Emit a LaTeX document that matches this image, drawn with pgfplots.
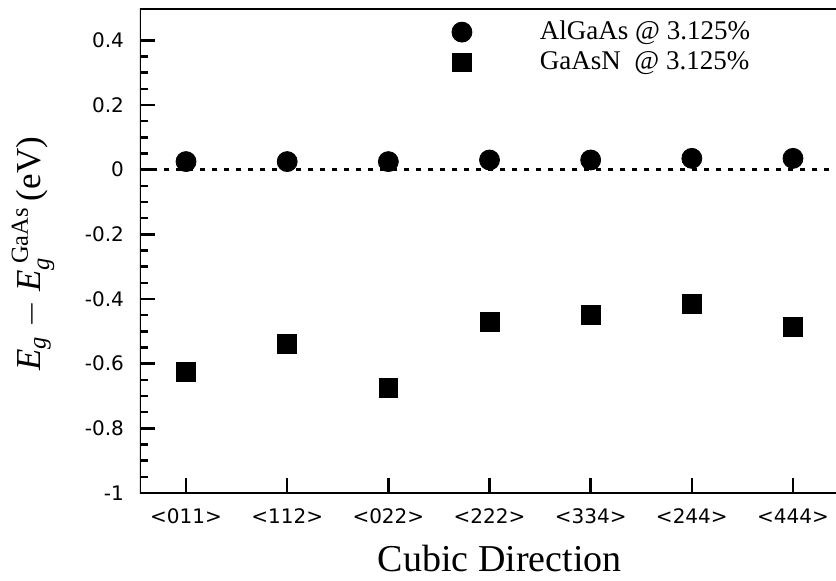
\documentclass[border=0pt]{standalone}
\usepackage{fontspec}
\setmainfont{Liberation Serif}
\newfontfamily\tickfont{DejaVu Sans}
\usepackage{amsmath}
\usepackage{pgfplots}
\pgfplotsset{compat=1.18}
\begin{document}
\begin{tikzpicture}
\begin{axis}[
  at={(0pt,0pt)}, anchor=south west,
  scale only axis, width=348pt, height=242.5pt,
  xmin=-0.455, xmax=6.425, ymin=-1, ymax=0.5,
  xtick={0,1,2,3,4,5,6},
  xticklabels={<011>,<112>,<022>,<222>,<334>,<244>,<444>},
  ytick={-1,-0.8,-0.6,-0.4,-0.2,0,0.2,0.4},
  minor y tick num=3,
  tick align=inside, xtick pos=bottom, ytick pos=left,
  major tick length=7.5pt, minor tick length=4pt,
  every tick/.style={line width=1.2pt, black},
  axis line style={draw=none},
  tick label style={font=\tickfont\fontsize{10}{12}\selectfont},
  /pgf/number format/assume math mode=true,
  xticklabel style={yshift=-4.5pt},
  yticklabel style={xshift=-4.5pt},
  every axis x label/.style={at={(axis description cs:0.517,-0.135)}, anchor=center},
  every axis y label/.style={at={(axis description cs:-0.1537,0.493)}, anchor=center, rotate=90},
  xlabel={\fontsize{19}{21}\selectfont Cubic Direction},
  ylabel={\fontsize{17.5}{20}\selectfont \textit{E}$_{\textit{g}}$ $-$ \textit{E}$_{\textit{g}}^{\;\text{GaAs}}$\,(eV)},
  legend style={draw=none, fill=none, at={(axis description cs:0.439,0.99)}, anchor=north west,
    font=\fontsize{13.5}{16}\selectfont, row sep=0.5pt},
  legend cell align=left,
]
\addplot[only marks, mark=*, mark size=5pt, black] coordinates {
  (0,0.025) (1,0.025) (2,0.025) (3,0.03) (4,0.03) (5,0.035) (6,0.035)};
\addlegendentry{\hspace{32pt}AlGaAs @ 3.125\%}
\addplot[only marks, mark=square*, mark size=4.7pt, black] coordinates {
  (0,-0.625) (1,-0.538) (2,-0.674) (3,-0.47) (4,-0.45) (5,-0.414) (6,-0.487)};
\addlegendentry{\hspace{32pt}GaAsN\ \ @ 3.125\%}
\addplot[black, line width=1.5pt, dash pattern=on 2.5pt off 3.5pt, forget plot] coordinates {(-0.455,0) (6.425,0)};
\draw[line width=1.5pt, black] (rel axis cs:0,1) -- (rel axis cs:0,0) -- (rel axis cs:1,0);
\draw[line width=1.5pt, black] (rel axis cs:0,1) -- (rel axis cs:1,1);
\end{axis}
\pgfresetboundingbox
\path[use as bounding box] (-70pt,-43.5pt) rectangle (348pt,246.5pt);
\end{tikzpicture}
\end{document}
